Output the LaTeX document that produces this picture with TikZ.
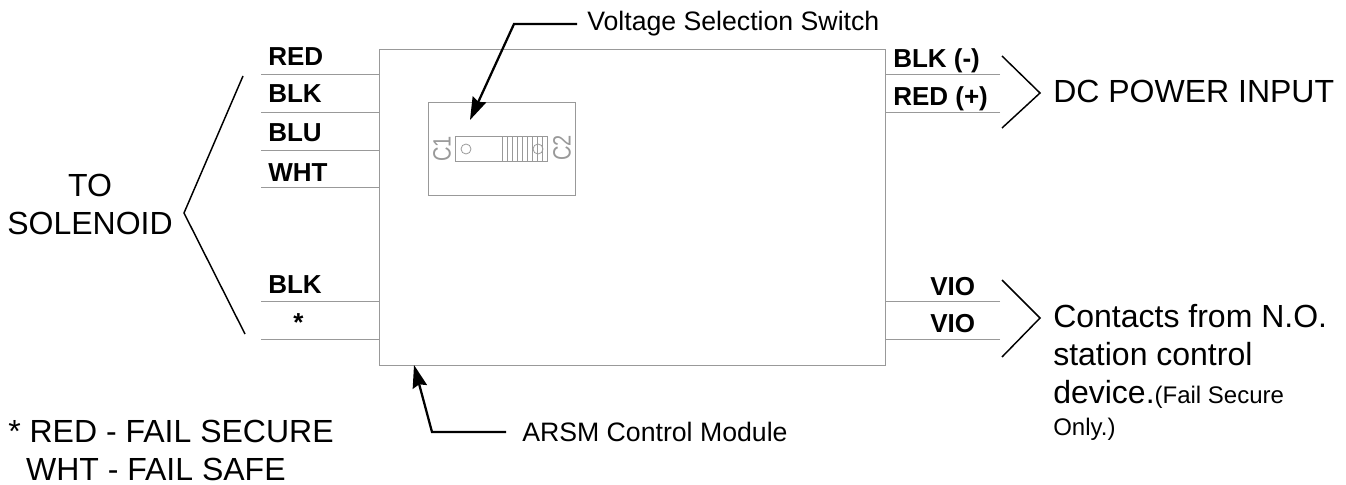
\documentclass[tikz,border=0pt]{standalone}
\usepackage{fontspec}
\setmainfont{Liberation Sans}
\usetikzlibrary{arrows.meta,positioning}
\tikzset{
    wire/.style={draw=black!40, line width=0.6pt},
    leader/.style={-{Stealth[length=17pt, width=11pt, inset=2pt]}, line width=1.7pt},
    brace/.style={line width=1.1pt},
    wirelabel/.style={font=\bfseries\fontsize{19.5}{22}\selectfont, inner sep=0pt, anchor=base west},
    biglabel/.style={font=\fontsize{24}{28.5}\selectfont, inner sep=0pt, anchor=base west, align=left},
    smalllabel/.style={font=\fontsize{18}{21}\selectfont, inner sep=0pt, anchor=base west},
    pointerlabel/.style={font=\fontsize{20}{24}\selectfont, inner sep=0pt, anchor=base west},
    pinlabel/.style={text=black!40, font=\fontsize{15}{17}\selectfont, rotate=90, inner sep=0pt},
    pinhole/.style={wire, circle, minimum size=7.5pt, inner sep=0pt}
}
\begin{document}
\begin{tikzpicture}[x=0.75pt, y=-0.75pt]
\useasboundingbox (0,0) rectangle (1346,485);
% module and switch
\node[wire, minimum width=379.5pt, minimum height=237pt, inner sep=0pt] (module) at (632,207) {};
\node[wire, minimum width=110.25pt, minimum height=69.75pt, inner sep=0pt] (switchplate) at (501.5,148.5) {};
\node[wire, minimum width=69pt, minimum height=19pt, inner sep=0pt] (slider) at (501.5,149) {};
\foreach \x in {502,507,...,542} {
    \draw[wire, line width=0.3pt] (\x,136) -- (\x,162);
}
\node[pinhole] (holeA) at (466,149) {};
\node[pinhole] (holeB) at (538,149) {};
\node[pinlabel] (labelA) at (442,149) {\scalebox{1}[1.25]{C1}};
\node[pinlabel] (labelB) at (562,148) {\scalebox{1}[1.25]{C2}};

% left wires
\foreach \name/\y in {la/74,lb/112,lc/150,ld/187,le/301,lf/339} {
    \coordinate (\name) at (261,\y);
    \draw[wire] (\name) -- (module.west |- \name);
}
\node[wirelabel] (red) at (268,66) {RED};
\node[wirelabel] (blk) at (268,103) {BLK};
\node[wirelabel] (blu) at (268,142) {BLU};
\node[wirelabel] (wht) at (268,181) {WHT};
\node[wirelabel] (blkb) at (268,293) {BLK};
\node[wirelabel] (star) at (293,331) {*};

% right wires
\foreach \name/\y in {ra/74,rb/112,rc/301,rd/339} {
    \coordinate (\name) at (1000,\y);
    \draw[wire] (\name) -- (module.east |- \name);
}
\node[wirelabel] (blkminus) at (893,68) {BLK (-)};
\node[wirelabel] (redplus) at (893,105) {RED (+)};
\node[wirelabel] (vioa) at (930,295) {VIO};
\node[wirelabel] (viob) at (930,332) {VIO};

% braces
\coordinate (ba) at (243,76);
\coordinate (bb) at (184,213);
\coordinate (bc) at (245,334);
\draw[brace] (ba) -- (bb) -- (bc);
\coordinate (bd) at (1002,56);
\coordinate (be) at (1040,93);
\coordinate (bf) at (1002,128);
\draw[brace] (bd) -- (be) -- (bf);
\coordinate (bg) at (1002,280);
\coordinate (bh) at (1040,318);
\coordinate (bi) at (1002,357);
\draw[brace] (bg) -- (bh) -- (bi);

% text
\node[biglabel, align=center, anchor=base] (solenoid) at (90,234) {TO\\SOLENOID};
\node[biglabel] (dcpower) at (1053,103) {DC POWER INPUT};
\node[biglabel] (contacts) at (1053,403) {Contacts from N.O.\\station control\\device.{\fontsize{18}{21}\selectfont(Fail Secure}};
\node[smalllabel] (only) at (1053,435) {Only.)};
\node[biglabel] (failnote) at (8,480) {* RED - FAIL SECURE\\\ \ WHT - FAIL SAFE};

% leaders
\node[pointerlabel] (voltage) at (587,31) {Voltage Selection Switch};
\node[pointerlabel] (arsm) at (522,441) {ARSM Control Module};
\coordinate (startA) at (577,24);
\coordinate (bendA) at (514,24);
\coordinate (tipA) at (470,120);
\coordinate (startB) at (506,432);
\coordinate (bendB) at (432,432);
\coordinate (tipB) at (414,365);
\draw[leader] (startA) -- (bendA) -- (tipA);
\draw[leader] (startB) -- (bendB) -- (tipB);
\end{tikzpicture}
\end{document}
